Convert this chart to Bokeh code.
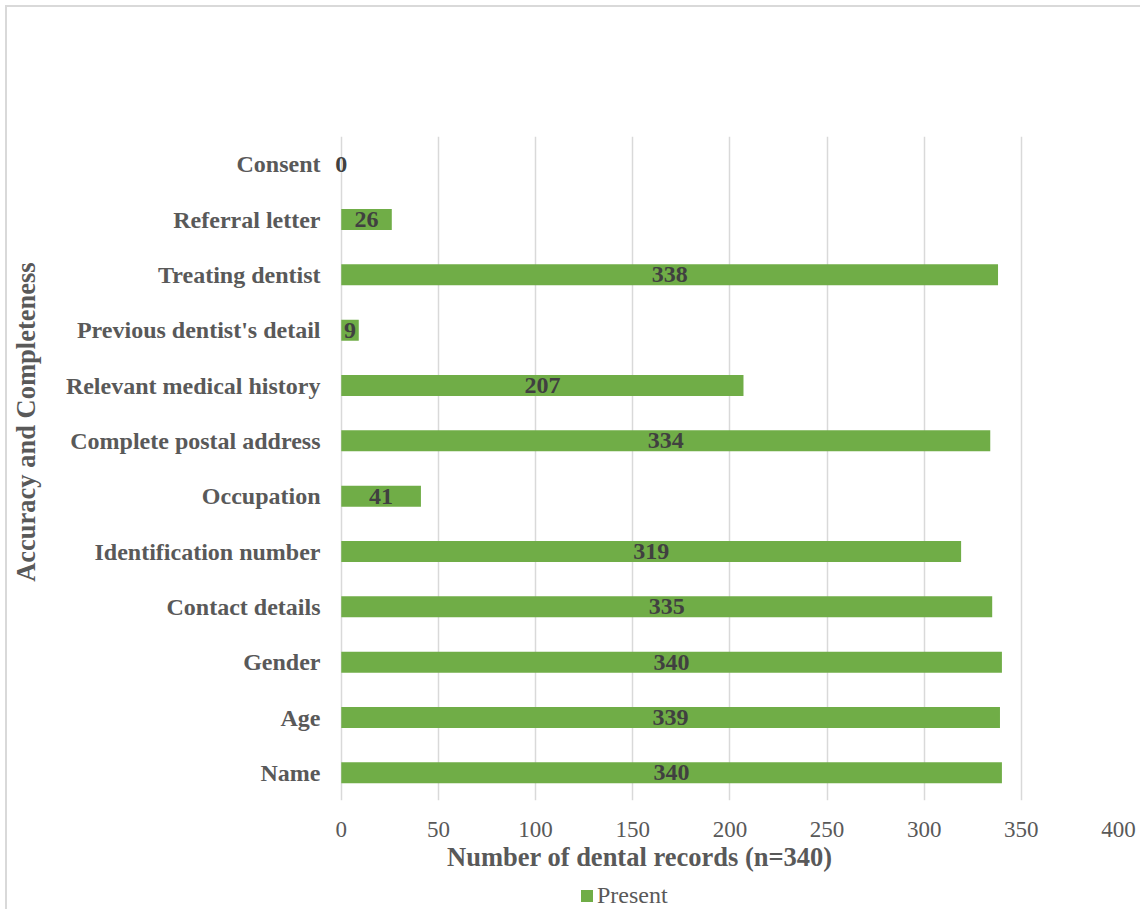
from bokeh.plotting import figure
from bokeh.layouts import column
from bokeh.models import ColumnDataSource, Legend, LegendItem, Range1d, FactorRange, LabelSet
from bokeh.core.properties import value
from bokeh.embed import file_html
from bokeh.resources import INLINE

categories = ["Name", "Age", "Gender", "Contact details", "Identification number",
              "Occupation", "Complete postal address", "Relevant medical history",
              "Previous dentist's detail", "Treating dentist", "Referral letter", "Consent"]
present = [340, 339, 340, 335, 319, 41, 334, 207, 9, 338, 26, 0]
x_ticks = [0, 50, 100, 150, 200, 250, 300, 350, 400]
series_name = "Present"

FONT = "Liberation Serif"
GREEN = "#70AD47"
GRAY = "#595959"

src = ColumnDataSource(dict(cat=categories, val=present,
                            mid=[v / 2 for v in present],
                            lbl=[str(v) for v in present]))

p = figure(width=1133, height=873, y_range=FactorRange(*categories),
           x_range=Range1d(-4, 400), output_backend="svg", toolbar_location=None,
           min_border_left=322, min_border_right=22, min_border_top=129,
           min_border_bottom=80)
p.outline_line_color = None

r = p.hbar(y="cat", right="val", left=0, height=0.38, source=src,
           fill_color=GREEN, line_color=None)
labels = LabelSet(x="mid", y="cat", text="lbl", source=src, text_align="center",
                  text_baseline="middle", text_font=value(FONT), text_font_style="bold",
                  text_font_size="24px", text_color="#404040")
p.add_layout(labels)

p.xaxis.ticker = x_ticks
p.xgrid.grid_line_color = "#d9d9d9"
p.xgrid.grid_line_width = 1.5
p.ygrid.grid_line_color = None

for ax in (p.xaxis, p.yaxis):
    ax.axis_line_color = None
    ax.major_tick_line_color = None
    ax.minor_tick_line_color = None
    ax.major_tick_out = 0
    ax.major_tick_in = 0
    ax.major_label_text_font = FONT
    ax.axis_label_text_font = FONT
    ax.axis_label_text_font_style = "bold"
    ax.axis_label_text_color = GRAY
    ax.major_label_text_color = GRAY

p.xaxis.major_label_text_font_size = "23px"
p.xaxis.major_label_standoff = 21
p.xaxis.axis_label = "Number of dental records (n=340)" + "\u2003" * 6 + "\u2002"
p.xaxis.axis_label_text_font_size = "26.5px"
p.xaxis.axis_label_standoff = 2

p.yaxis.major_label_text_font_size = "24px"
p.yaxis.major_label_text_font_style = "bold"
p.yaxis.major_label_standoff = 13
p.yaxis.axis_label = "\u2003" * 3 + "\u2002" + "Accuracy and Completeness"
p.yaxis.axis_label_text_font_size = "26.5px"
p.yaxis.axis_label_standoff = 22

# legend strip below the chart (its frame is aligned with the chart's frame)
lg = figure(width=1133, height=29, x_range=Range1d(-4, 400), y_range=Range1d(0, 1),
            output_backend="svg", toolbar_location=None, min_border=0,
            min_border_left=322, min_border_right=22)
lg.axis.visible = False
lg.grid.grid_line_color = None
lg.outline_line_color = None
proxy_src = ColumnDataSource(dict(y=[0.5], left=[0], right=[0]))
proxy = lg.hbar(y="y", left="left", right="right", height=0.5, source=proxy_src,
                fill_color=GREEN, line_color=None)
legend = Legend(items=[LegendItem(label=series_name, renderers=[proxy], index=0)],
                orientation="horizontal", location=(246, 0),
                label_text_font=FONT, label_text_font_size="24px",
                label_text_color=GRAY, glyph_width=15, glyph_height=15,
                padding=0, margin=0, border_line_color=None,
                background_fill_alpha=0, label_standoff=3)
lg.add_layout(legend)

layout = column(p, lg, spacing=0,
                styles={"margin-left": "5px", "margin-top": "5px",
                        "border-left": "2px solid #d9d9d9",
                        "border-top": "2px solid #d9d9d9"})
open("out.html", "w").write(file_html(layout, INLINE))
